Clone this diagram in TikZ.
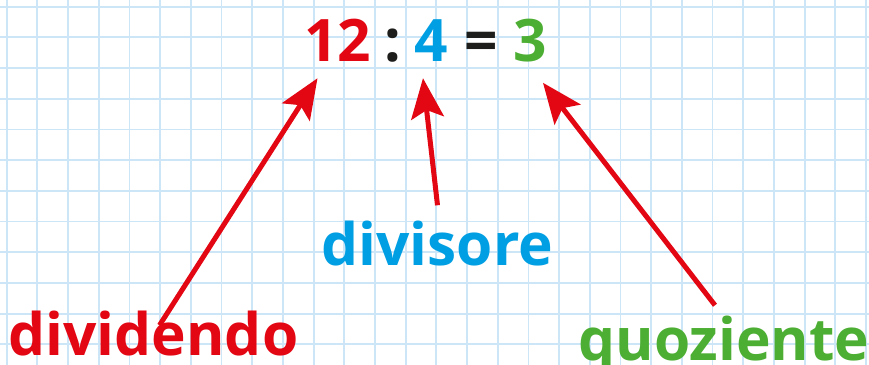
\documentclass[tikz,border=0pt]{standalone}
\usepackage{fontspec}
\setmainfont{Open Sans}
\usetikzlibrary{arrows.meta,calc}
\definecolor{divred}{RGB}{227,6,19}
\definecolor{divblue}{RGB}{0,159,227}
\definecolor{divgreen}{RGB}{76,174,50}
\definecolor{divblack}{RGB}{29,29,27}
\definecolor{gridblue}{RGB}{204,230,248}

\begin{document}
\begin{tikzpicture}[x=0.3mm,y=-0.3mm,
    gridline/.style={line width=0.55mm,gridblue},
    num/.style={inner sep=0,anchor=base,font=\fontsize{50}{50}\selectfont\bfseries},
    lbl/.style={inner sep=0,anchor=base,font=\fontsize{50}{50}\selectfont\bfseries},
    pointer/.style={line width=1.5mm,divred,-{Stealth[length=12mm,width=9.8mm,inset=2.4mm]}}]
  \useasboundingbox (0,0) rectangle (869,365);
  \fill[white] (0,0) rectangle (869,365);
  % squared paper
  \foreach \k in {0,...,28}
    \draw[gridline] ({6.7+30.69*\k},0) -- ({6.7+30.69*\k},365);
  \foreach \k in {0,...,11}
    \draw[gridline] (0,{6.7+30.69*\k}) -- (869,{6.7+30.69*\k});
  % the division
  \node[num,divred] (dividend) at (337.5,62) {12};
  \node[num,divblack] (colon) at (393,62) {:};
  \node[num,divblue] (divisor) at (431,62) {4};
  \node[num,divblack] (equals) at (481,62) {=};
  \node[num,divgreen] (quotient) at (530,62) {3};
  % names
  \node[lbl,divred] (dividendo) at (153.5,355) {dividendo};
  \node[lbl,divblue] (divisore) at (437.5,265) {divisore};
  \node[lbl,divgreen] (quoziente) at (724,360) {quoziente};
  \draw[pointer] ([shift={(6,15)}]dividendo.north) -- ([shift={(-20,16)}]dividend.south);
  \draw[pointer] ([shift={(0,-15)}]divisore.north) -- ([shift={(-8,16)}]divisor.south);
  \draw[pointer] ([shift={(-9,-10)}]quoziente.north) -- ([shift={(13,20)}]quotient.south);
\end{tikzpicture}
\end{document}
